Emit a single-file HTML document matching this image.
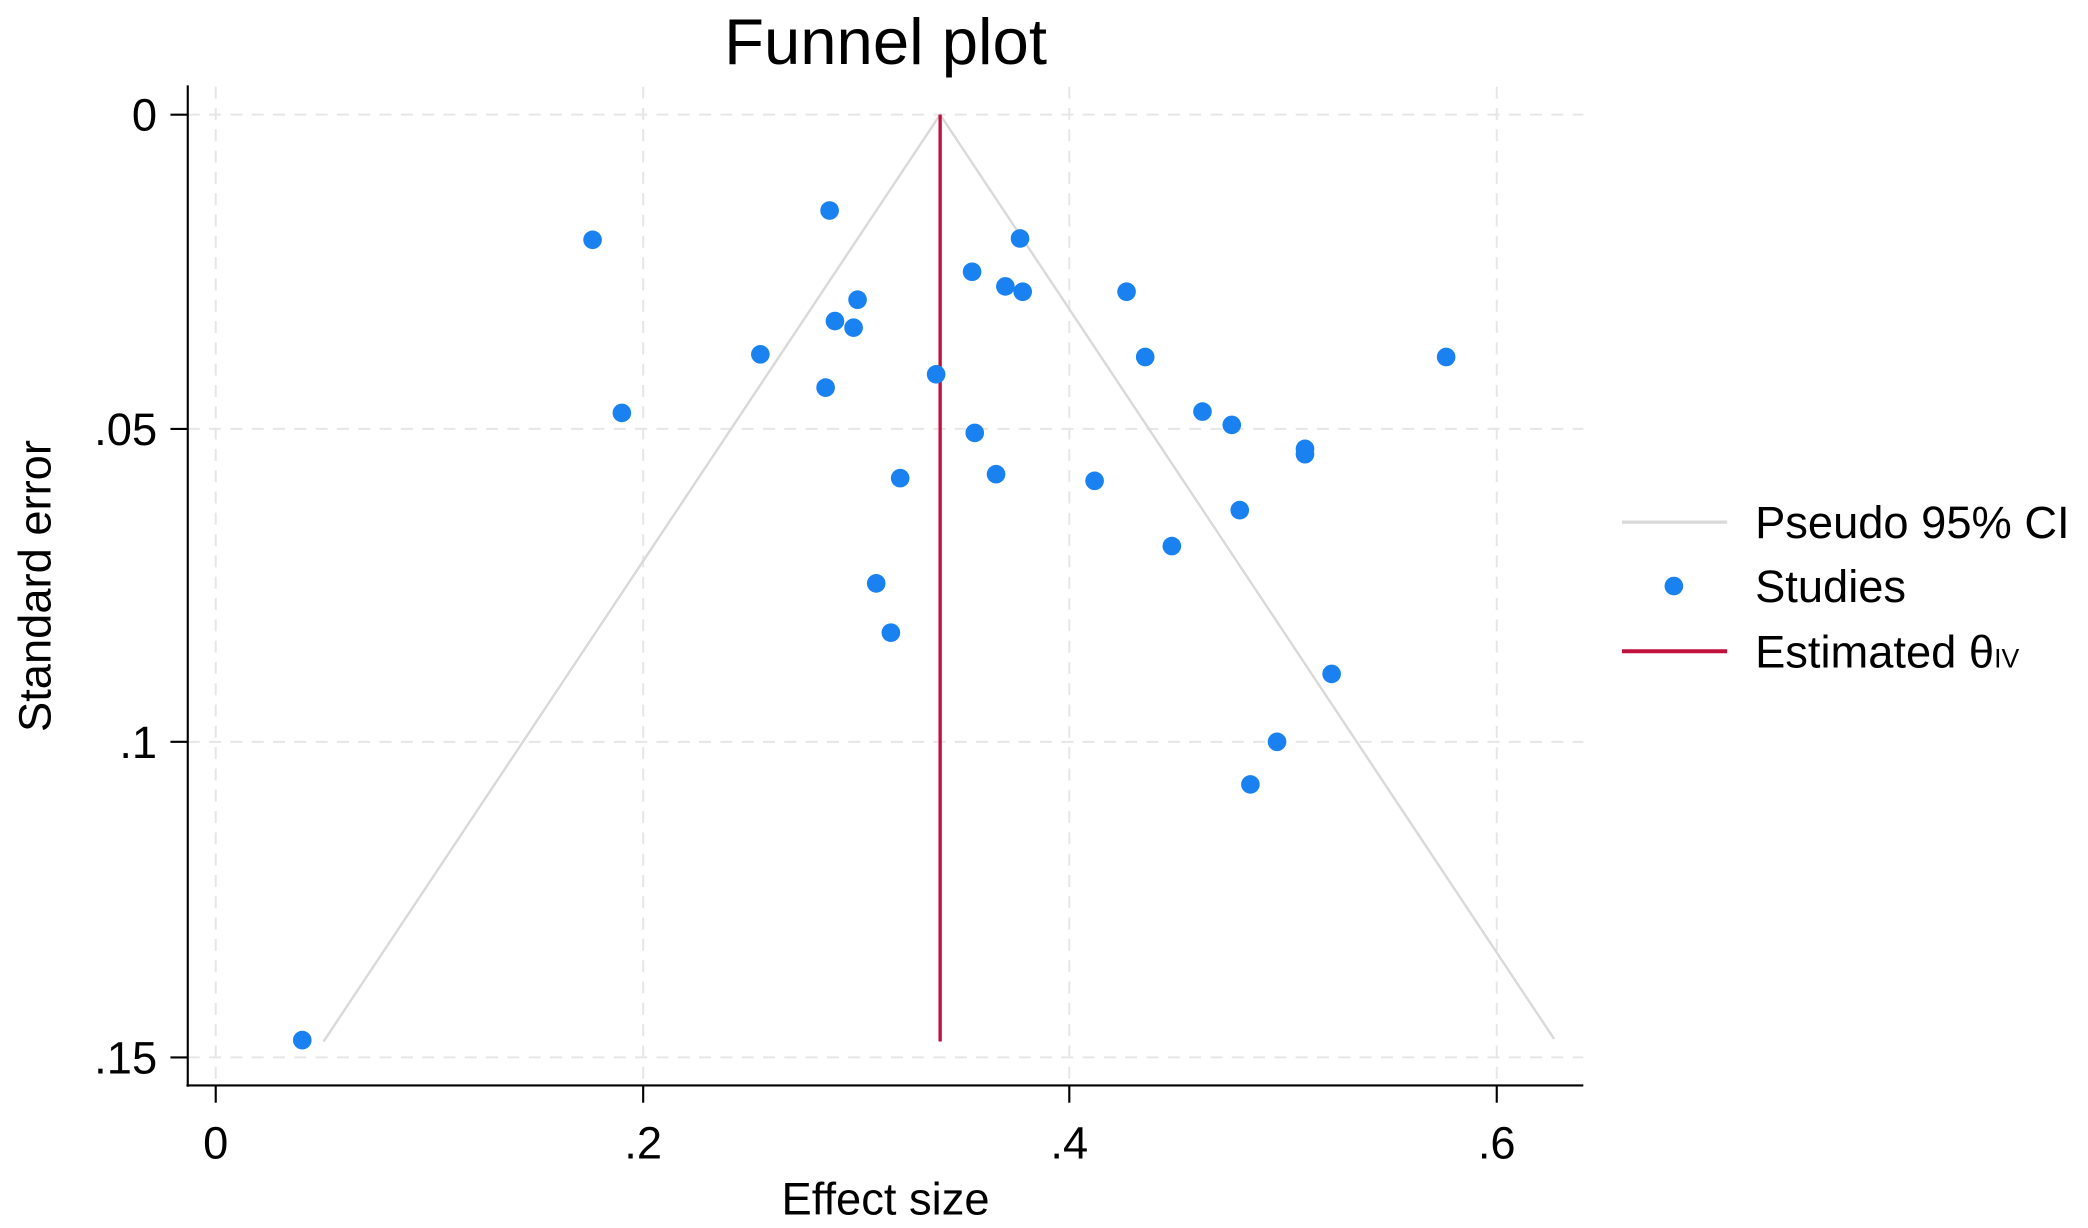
<!DOCTYPE html>
<html><head><style>html,body{margin:0;padding:0;background:#fff}svg{display:block}</style></head>
<body>
<svg width="2088" height="1228" viewBox="0 0 1568 922" xmlns="http://www.w3.org/2000/svg" font-family="Liberation Sans, sans-serif">
<rect width="1568" height="922" fill="#fff"/>
<g stroke="#e6e6e6" stroke-width="1.5" stroke-dasharray="9,7">
<line x1="162" y1="65" x2="162" y2="815"/><line x1="483" y1="65" x2="483" y2="815"/>
<line x1="803" y1="65" x2="803" y2="815"/><line x1="1124" y1="65" x2="1124" y2="815"/>
<line x1="141" y1="86" x2="1189" y2="86"/><line x1="141" y1="322" x2="1189" y2="322"/>
<line x1="141" y1="557" x2="1189" y2="557"/><line x1="141" y1="794" x2="1189" y2="794"/>
</g>
<polyline points="243,782 706,86 1167,780" fill="none" stroke="#d9d9d9" stroke-width="1.8"/>
<line x1="706" y1="86" x2="706" y2="782" stroke="#c0103c" stroke-width="2.5"/>
<g fill="#1a82f0">
<circle cx="445" cy="180" r="7"/><circle cx="623" cy="158" r="7"/><circle cx="766" cy="179" r="7"/>
<circle cx="730" cy="204" r="7"/><circle cx="755" cy="215" r="7"/><circle cx="768" cy="219" r="7"/>
<circle cx="846" cy="219" r="7"/><circle cx="644" cy="225" r="7"/><circle cx="627" cy="241" r="7"/>
<circle cx="641" cy="246" r="7"/><circle cx="571" cy="266" r="7"/><circle cx="860" cy="268" r="7"/>
<circle cx="1086" cy="268" r="7"/><circle cx="703" cy="281" r="7"/><circle cx="620" cy="291" r="7"/>
<circle cx="467" cy="310" r="7"/><circle cx="903" cy="309" r="7"/><circle cx="925" cy="319" r="7"/>
<circle cx="732" cy="325" r="7"/><circle cx="980" cy="337" r="7"/><circle cx="980" cy="341" r="7"/>
<circle cx="676" cy="359" r="7"/><circle cx="748" cy="356" r="7"/><circle cx="822" cy="361" r="7"/>
<circle cx="931" cy="383" r="7"/><circle cx="880" cy="410" r="7"/><circle cx="658" cy="438" r="7"/>
<circle cx="669" cy="475" r="7"/><circle cx="1000" cy="506" r="7"/><circle cx="959" cy="557" r="7"/>
<circle cx="939" cy="589" r="7"/><circle cx="227" cy="781" r="7"/>
</g>
<g stroke="#000" stroke-width="1.6">
<line x1="141" y1="64" x2="141" y2="816"/><line x1="140" y1="815" x2="1189" y2="815"/>
<line x1="128" y1="86" x2="141" y2="86"/><line x1="128" y1="322" x2="141" y2="322"/>
<line x1="128" y1="557" x2="141" y2="557"/><line x1="128" y1="794" x2="141" y2="794"/>
<line x1="162" y1="815" x2="162" y2="828"/><line x1="483" y1="815" x2="483" y2="828"/>
<line x1="803" y1="815" x2="803" y2="828"/><line x1="1124" y1="815" x2="1124" y2="828"/>
</g>
<g font-size="34" fill="#000" text-anchor="end">
<text x="118" y="98">0</text><text x="118" y="334">.05</text><text x="118" y="569">.1</text><text x="118" y="806">.15</text>
</g>
<g font-size="34" fill="#000" text-anchor="middle">
<text x="162" y="870">0</text><text x="483" y="870">.2</text><text x="803" y="870">.4</text><text x="1124" y="870">.6</text>
<text x="665" y="912">Effect size</text>
<text x="0" y="0" transform="translate(38,440) rotate(-90)">Standard error</text>
<text x="665" y="48" font-size="49">Funnel plot</text>
</g>
<line x1="1218" y1="392" x2="1297" y2="392" stroke="#d9d9d9" stroke-width="2.5"/>
<circle cx="1257" cy="440" r="7" fill="#1a82f0"/>
<line x1="1218" y1="489" x2="1297" y2="489" stroke="#c0103c" stroke-width="3"/>
<g font-size="34" fill="#000">
<text x="1318" y="404">Pseudo 95% CI</text>
<text x="1318" y="452">Studies</text>
<text x="1318" y="501">Estimated θ<tspan font-size="20">IV</tspan></text>
</g>
</svg>
</body></html>
